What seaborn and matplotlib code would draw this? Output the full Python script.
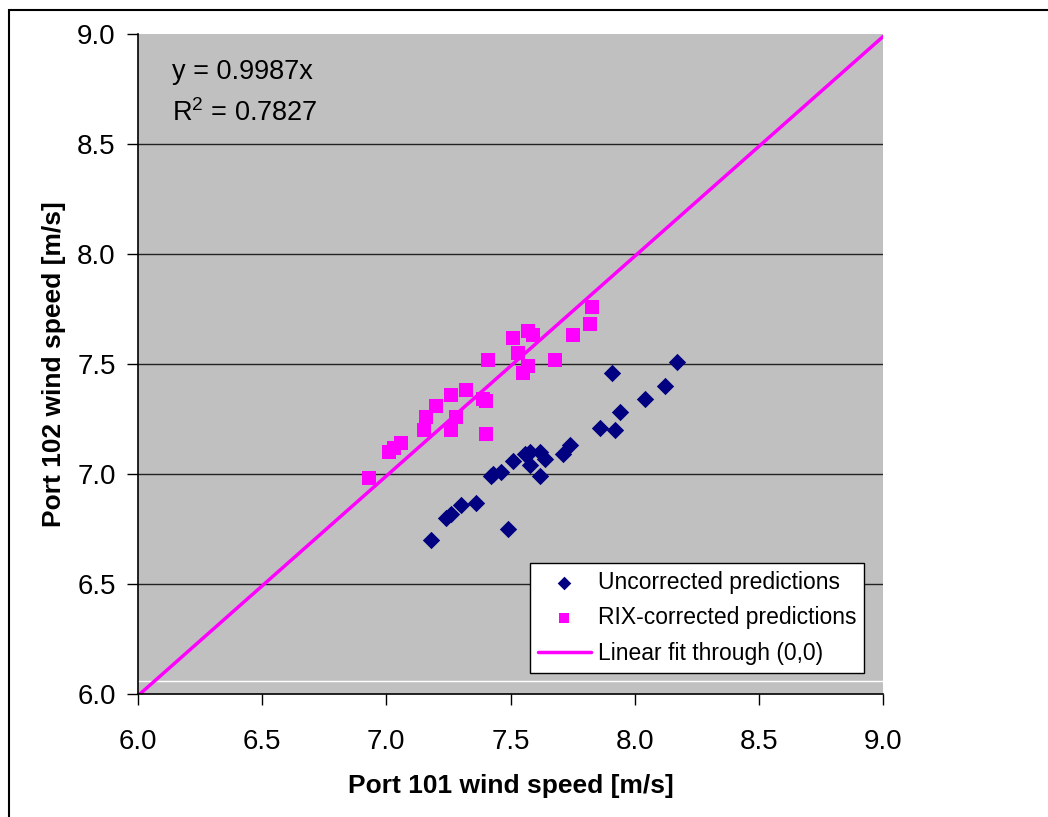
import numpy as np
import pandas as pd
import matplotlib
matplotlib.use("Agg")
import matplotlib.pyplot as plt
import seaborn as sns
from matplotlib.patches import Rectangle

# Data
uncorr_x = [7.18, 7.24, 7.26, 7.30, 7.36, 7.49, 7.42, 7.43, 7.46, 7.51, 7.56, 7.58,
            7.58, 7.62, 7.64, 7.62, 7.71, 7.74, 7.86, 7.92, 7.94, 7.91, 8.04, 8.12, 8.17]
uncorr_y = [6.70, 6.80, 6.82, 6.86, 6.87, 6.75, 6.99, 7.00, 7.01, 7.06, 7.09, 7.10,
            7.04, 7.10, 7.07, 6.99, 7.09, 7.13, 7.21, 7.20, 7.28, 7.46, 7.34, 7.40, 7.51]

rix_x = [6.93, 7.01, 7.03, 7.06, 7.15, 7.16, 7.20, 7.26, 7.28, 7.26, 7.32, 7.39, 7.40,
         7.40, 7.41, 7.51, 7.53, 7.55, 7.57, 7.57, 7.59, 7.68, 7.75, 7.82, 7.83]
rix_y = [6.98, 7.10, 7.12, 7.14, 7.20, 7.26, 7.31, 7.20, 7.26, 7.36, 7.38, 7.34, 7.33,
         7.18, 7.52, 7.62, 7.55, 7.46, 7.49, 7.65, 7.63, 7.52, 7.63, 7.68, 7.76]

fit_slope = 0.9987
fit_r2 = 0.7827
fit_x = [6.0, 9.0]

ticks = [6.0, 6.5, 7.0, 7.5, 8.0, 8.5, 9.0]

sns.set_style("white")
plt.rcParams['font.family'] = ['Liberation Sans', 'DejaVu Sans']
plt.rcParams['mathtext.default'] = 'regular'
for key in ['text.color', 'axes.labelcolor', 'xtick.color', 'ytick.color']:
    plt.rcParams[key] = 'black'

df_unc = pd.DataFrame({'x': uncorr_x, 'y': uncorr_y})
df_rix = pd.DataFrame({'x': rix_x, 'y': rix_y})
df_fit = pd.DataFrame({'x': fit_x, 'y': [fit_slope * v for v in fit_x]})

fig = plt.figure(figsize=(10.48, 8.17), dpi=100)
ax = fig.add_axes([0.1317, 0.1506, 0.7109, 0.8078])
ax.set_facecolor('#C0C0C0')

# Outer chart border (cropped at right/bottom)
fig.patches.append(Rectangle((0.0086, -0.05), 1.2, 0.9978 + 0.05 - 0.0100,
                             transform=fig.transFigure, fill=False,
                             edgecolor='black', linewidth=1.5))

for t in ticks[1:-1]:
    ax.axhline(t, color='#222222', linewidth=1.0, zorder=1)
ax.axhline(6.058, color='white', linewidth=1.0, zorder=1)

sns.lineplot(data=df_fit, x='x', y='y', ax=ax, color='#FF00FF', linewidth=2.5,
             label='Linear fit through (0,0)', zorder=2)
sns.scatterplot(data=df_unc, x='x', y='y', ax=ax, marker='D', color='#000080',
                s=78, linewidth=0, label='Uncorrected predictions', zorder=3)
sns.scatterplot(data=df_rix, x='x', y='y', ax=ax, marker='s', color='#FF00FF',
                s=92, linewidth=0, label='RIX-corrected predictions', zorder=3)

ax.set_xlim(6.0, 9.0)
ax.set_ylim(6.0, 9.0)
ax.set_xticks(ticks)
ax.set_yticks(ticks)
ax.set_xticklabels([f"{t:.1f}" for t in ticks])
ax.set_yticklabels([f"{t:.1f}" for t in ticks])
ax.tick_params(axis='both', direction='out', length=8, width=1, color='black',
               labelcolor='black', labelsize=20, pad=8, bottom=True, left=True)
ax.tick_params(axis='x', pad=17)

for side in ['top', 'right']:
    ax.spines[side].set_visible(False)
for side in ['left', 'bottom']:
    ax.spines[side].set_color('black')
    ax.spines[side].set_linewidth(1.2)

ax.set_xlabel("Port 101 wind speed [m/s]", fontsize=19, fontweight='bold', labelpad=14)
ax.set_ylabel("Port 102 wind speed [m/s]", fontsize=19, fontweight='bold', labelpad=8)

ax.text(0.045, 0.942, f"y = {fit_slope}x", transform=ax.transAxes,
        fontsize=19.5, va='center', ha='left')
ax.text(0.045, 0.880, f"R$^2$ = {fit_r2}", transform=ax.transAxes,
        fontsize=19.5, va='center', ha='left')

handles, labels = ax.get_legend_handles_labels()
order = [labels.index('Uncorrected predictions'),
         labels.index('RIX-corrected predictions'),
         labels.index('Linear fit through (0,0)')]
leg = ax.legend([handles[i] for i in order], [labels[i] for i in order],
                loc='lower right', bbox_to_anchor=(0.9745, 0.0318),
                fontsize=16.5, frameon=True, fancybox=False, framealpha=1,
                edgecolor='black', handlelength=2.3,
                borderpad=0.35, labelspacing=0.55, handletextpad=0.3,
                borderaxespad=0)
leg.get_frame().set_linewidth(1.0)
leg.legend_handles[0].set_sizes([48])
leg.legend_handles[1].set_sizes([58])

fig.savefig("out.png", dpi=100, facecolor='white')
